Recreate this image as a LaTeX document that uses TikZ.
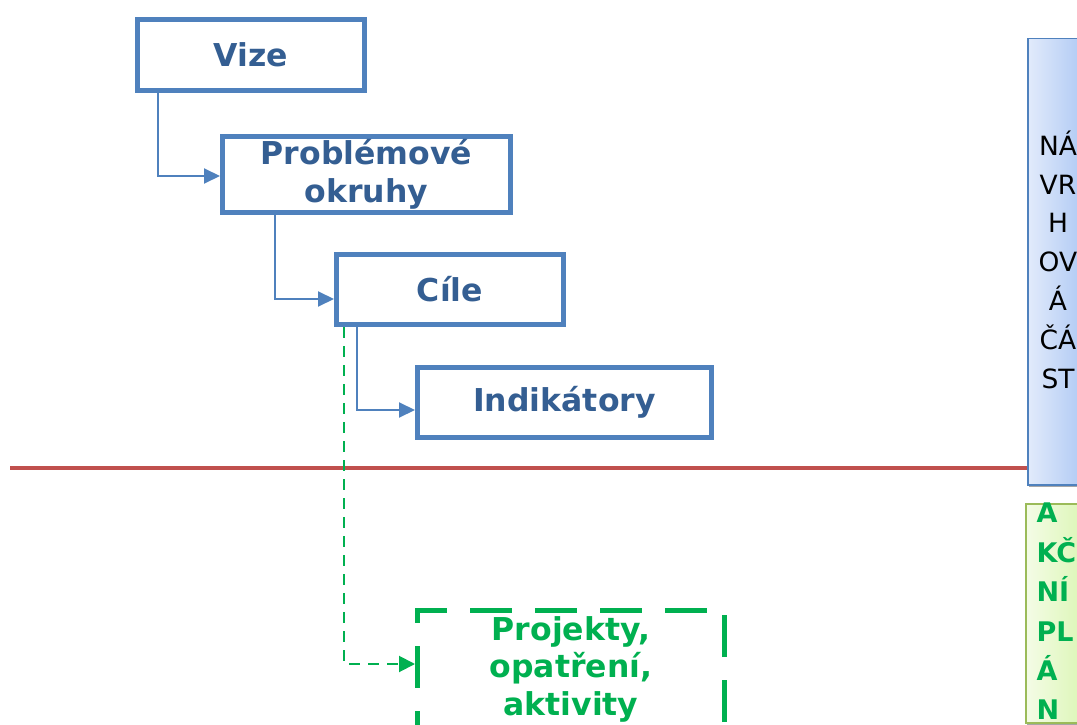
\documentclass[tikz,border=0pt]{standalone}
\usepackage{fontspec}
\setmainfont{DejaVu Sans}
\usetikzlibrary{arrows.meta}
\definecolor{boxblue}{HTML}{4F81BD}
\definecolor{txtblue}{HTML}{345E92}
\definecolor{redline}{HTML}{C0504D}
\definecolor{grn}{HTML}{00B050}
\definecolor{grnborder}{HTML}{9BBB59}
\definecolor{sideblueL}{HTML}{E2EBFB}
\definecolor{sideblueR}{HTML}{A9C5F3}
\definecolor{sidegrnL}{HTML}{F4FCE6}
\definecolor{sidegrnR}{HTML}{D9F5B0}
\tikzset{
  stepbox/.style={draw=boxblue, line width=5pt, fill=white, inner sep=0pt,
    text=txtblue, align=center, font=\fontsize{31.5}{37.5}\selectfont\bfseries},
  conn/.style={draw=boxblue, line width=2pt, -{Triangle[length=16pt,width=15pt]}},
  gconn/.style={draw=grn, line width=2pt, dash pattern=on 11pt off 8pt,
    -{Triangle[length=16pt,width=16pt]}},
  projbox/.style={draw=grn, line width=5pt, dash pattern=on 42pt off 23pt, dash phase=12pt, inner sep=0pt,
    text=grn, align=center, font=\fontsize{31.5}{37.5}\selectfont\bfseries},
}
\begin{document}
\begin{tikzpicture}[x=1pt,y=-1pt]
\useasboundingbox (0,0) rectangle (1077,725);
\clip (0,0) rectangle (1077,725);

% red divider
\coordinate (rl) at (10,468);
\coordinate (rr) at (1027,468);
\draw[redline, line width=3.5pt] (rl) -- (rr);

% side boxes
\fill[gray!70] (1029,41) rectangle (1092,487);
\node[draw=boxblue, line width=1.5pt, left color=sideblueL, right color=sideblueR,
  minimum width=63pt, minimum height=446pt, inner sep=0pt, anchor=north west] (navrh) at (1027,38) {};
\node[align=center, font=\fontsize{26.5}{38.8}\selectfont, text=black] (navrht) at (1058,259.5)
  {NÁ\\VR\\H\\OV\\Á\\ČÁ\\ST};

\fill[gray!70] (1027,506) rectangle (1092,725);
\node[draw=grnborder, line width=2pt, left color=sidegrnL, right color=sidegrnR,
  minimum width=65pt, minimum height=219pt, inner sep=0pt, anchor=north west] (akcni) at (1025,503) {};
\node[align=left, font=\fontsize{27}{39.4}\selectfont\bfseries, text=grn, anchor=west] (akcnit) at (1033,611.5)
  {A\\KČ\\NÍ\\PL\\Á\\N};

% main boxes
\node[stepbox, minimum width=227pt, minimum height=71pt] (vize) at (251,55) {Vize};
\node[stepbox, minimum width=288pt, minimum height=76pt] (prob) at (366.5,174.5) {Problémové\\okruhy};
\node[stepbox, minimum width=227pt, minimum height=70pt] (cile) at (450,289.5) {Cíle};
\node[stepbox, minimum width=294pt, minimum height=70pt] (indik) at (564.5,402.5) {Indikátory};
\node[projbox, minimum width=307pt, minimum height=118pt] (proj) at (571,669) {Projekty,\\opatření,\\aktivity};

% connectors
\draw[conn] ([xshift=23pt]vize.south west) |- ([yshift=-1.5pt]prob.west);
\draw[conn] ([xshift=55pt]prob.south west) |- ([yshift=-9.5pt]cile.west);
\draw[conn] ([xshift=23pt]cile.south west) |- ([yshift=-7.5pt]indik.west);
\draw[gconn] ([xshift=10pt]cile.south west) |- ([yshift=5pt]proj.west);
\end{tikzpicture}
\end{document}
